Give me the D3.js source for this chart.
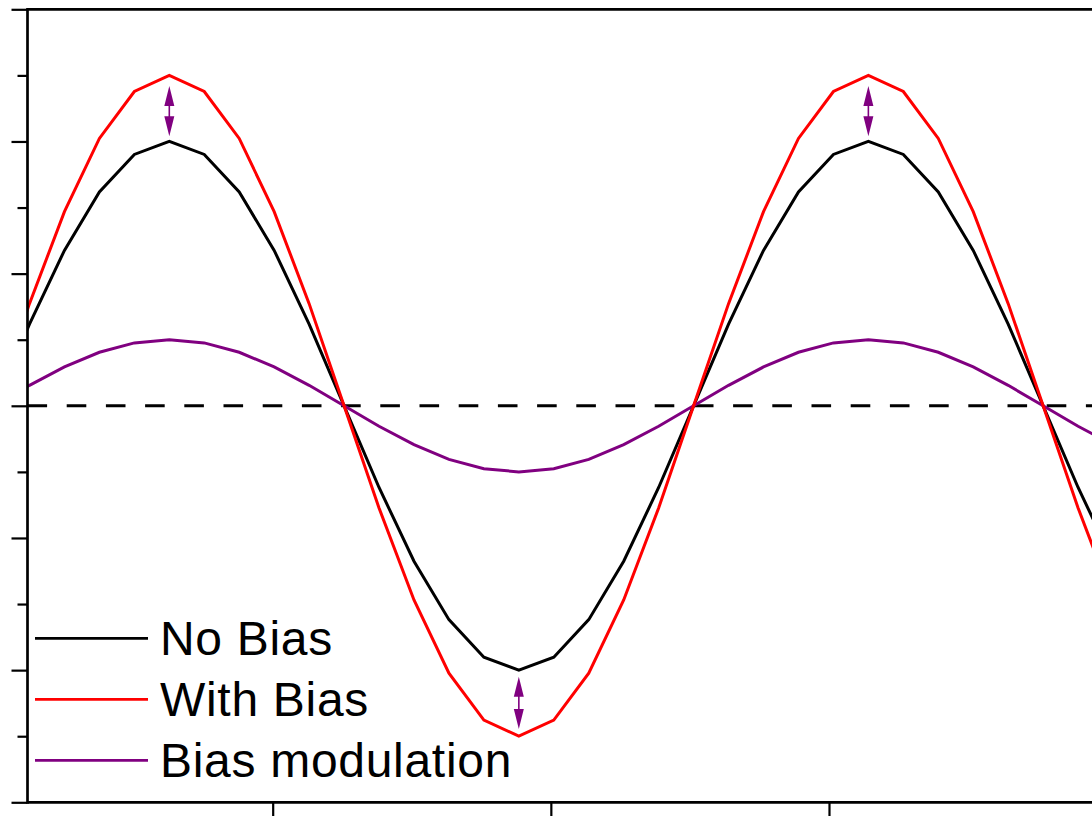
<!DOCTYPE html>
<html>
<head>
<meta charset="utf-8">
<script src="https://cdn.jsdelivr.net/npm/d3@7/dist/d3.min.js"></script>
<style>
  html, body { margin: 0; padding: 0; background: #fff; }
  svg { display: block; }
</style>
</head>
<body>
<svg id="chart" width="1092" height="816"></svg>
<script>
// ---- data ----
const xValues = [0, 1.2566, 2.5133, 3.7699, 5.0265, 6.2832, 7.5398, 8.7965, 10.0531, 11.3097,
  12.5664, 13.8230, 15.0796, 16.3363, 17.5929, 18.8496, 20.1062, 21.3628, 22.6195, 23.8761,
  25.1327, 26.3894, 27.6460, 28.9027, 30.1593, 31.4159, 32.6726, 33.9292, 35.1858, 36.4425,
  37.6991, 38.9557, 40.2124];
const noBias = [0, 0.618, 1.176, 1.618, 1.902, 2, 1.902, 1.618, 1.176, 0.618,
  0, -0.618, -1.176, -1.618, -1.902, -2, -1.902, -1.618, -1.176, -0.618,
  0, 0.618, 1.176, 1.618, 1.902, 2, 1.902, 1.618, 1.176, 0.618,
  0, -0.618, -1.176];
const withBias = [0, 0.773, 1.469, 2.023, 2.378, 2.5, 2.378, 2.023, 1.469, 0.773,
  0, -0.773, -1.469, -2.023, -2.378, -2.5, -2.378, -2.023, -1.469, -0.773,
  0, 0.773, 1.469, 2.023, 2.378, 2.5, 2.378, 2.023, 1.469, 0.773,
  0, -0.773, -1.469];
const biasModulation = [0, 0.155, 0.294, 0.405, 0.476, 0.5, 0.476, 0.405, 0.294, 0.155,
  0, -0.155, -0.294, -0.405, -0.476, -0.5, -0.476, -0.405, -0.294, -0.155,
  0, 0.155, 0.294, 0.405, 0.476, 0.5, 0.476, 0.405, 0.294, 0.155,
  0, -0.155, -0.294];
const seriesNames = ["No Bias", "With Bias", "Bias modulation"];
const arrowX = [6.2832, 18.8496, 31.4159];
const arrowFrom = [2.04, -2.05, 2.04];
const arrowTo = [2.42, -2.445, 2.42];
const yMajorTicks = [-3, -2, -1, 0, 1, 2, 3];
const yMinorTicks = [-2.5, -1.5, -0.5, 0.5, 1.5, 2.5];
const xMajorTicks = [10, 20, 30, 40];

// ---- layout ----
const svg = d3.select("#chart");
const plotLeft = 27.5, plotTop = 9.3, plotBottom = 802.3;
const xMin = 1.185, xMax = 40;
const pxPerUnit = 27.815;
const plotRight = plotLeft + (xMax - xMin) * pxPerUnit;

const x = d3.scaleLinear().domain([xMin, xMax]).range([plotLeft, plotRight]);
const y = d3.scaleLinear().domain([-3, 3]).range([plotBottom, plotTop]);

svg.append("rect").attr("width", 1092).attr("height", 816).attr("fill", "#fff");

svg.append("defs").append("clipPath").attr("id", "plotclip")
  .append("rect").attr("x", plotLeft).attr("y", plotTop)
  .attr("width", plotRight - plotLeft).attr("height", plotBottom - plotTop);

const plot = svg.append("g").attr("clip-path", "url(#plotclip)");

// zero dashed line
plot.append("line")
  .attr("x1", plotLeft).attr("x2", plotRight)
  .attr("y1", y(0)).attr("y2", y(0))
  .attr("stroke", "#000").attr("stroke-width", 3)
  .attr("stroke-dasharray", "19.6,19.6");

const line = d3.line().x((d, i) => x(xValues[i])).y(d => y(d));
const series = [
  { vals: noBias, color: "#000000" },
  { vals: biasModulation, color: "#800080" },
  { vals: withBias, color: "#ff0000" }
];
series.forEach(s => {
  plot.append("path")
    .attr("d", line(s.vals))
    .attr("fill", "none")
    .attr("stroke", s.color)
    .attr("stroke-width", 3)
    .attr("stroke-linejoin", "miter");
});

// double arrows
const headLen = 20, headHalf = 5;
arrowX.forEach((ax, i) => {
  const px = x(ax);
  const yA = y(Math.max(arrowFrom[i], arrowTo[i]));
  const yB = y(Math.min(arrowFrom[i], arrowTo[i]));
  const g = plot.append("g");
  g.append("line")
    .attr("x1", px).attr("x2", px)
    .attr("y1", yA + headLen - 1).attr("y2", yB - headLen + 1)
    .attr("stroke", "#800080").attr("stroke-width", 1.6);
  g.append("path")
    .attr("d", `M${px},${yA} L${px - headHalf},${yA + headLen} L${px + headHalf},${yA + headLen} Z`)
    .attr("fill", "#800080");
  g.append("path")
    .attr("d", `M${px},${yB} L${px - headHalf},${yB - headLen} L${px + headHalf},${yB - headLen} Z`)
    .attr("fill", "#800080");
});

// axes ticks
const yMajorAxis = d3.axisLeft(y).tickValues(yMajorTicks).tickSize(16).tickFormat("");
const yMinorAxis = d3.axisLeft(y).tickValues(yMinorTicks).tickSize(10).tickFormat("");
const xAxis = d3.axisBottom(x).tickValues(xMajorTicks).tickSize(16).tickFormat("");

function styleAxis(g) {
  g.select(".domain").remove();
  g.selectAll(".tick line").attr("stroke", "#000").attr("stroke-width", 2.2);
}
svg.append("g").attr("transform", `translate(${plotLeft},0)`).call(yMajorAxis).call(styleAxis);
svg.append("g").attr("transform", `translate(${plotLeft},0)`).call(yMinorAxis).call(styleAxis);
svg.append("g").attr("transform", `translate(0,${plotBottom})`).call(xAxis).call(styleAxis);

// frame lines
const fw = 2.7;
svg.append("line").attr("x1", plotLeft).attr("x2", plotLeft)
  .attr("y1", plotTop - fw / 2).attr("y2", plotBottom + fw / 2)
  .attr("stroke", "#000").attr("stroke-width", fw);
svg.append("line").attr("x1", plotLeft).attr("x2", plotRight).attr("y1", plotTop).attr("y2", plotTop)
  .attr("stroke", "#000").attr("stroke-width", fw);
svg.append("line").attr("x1", plotLeft).attr("x2", plotRight).attr("y1", plotBottom).attr("y2", plotBottom)
  .attr("stroke", "#000").attr("stroke-width", fw);
svg.append("line").attr("x1", plotRight).attr("x2", plotRight).attr("y1", plotTop).attr("y2", plotBottom)
  .attr("stroke", "#000").attr("stroke-width", fw);

// legend
const legendColors = ["#000000", "#ff0000", "#800080"];
const legendBaselines = [655, 716, 777];
const legend = svg.append("g");
seriesNames.forEach((name, i) => {
  legend.append("line")
    .attr("x1", 35).attr("x2", 148)
    .attr("y1", legendBaselines[i] - 16.7).attr("y2", legendBaselines[i] - 16.7)
    .attr("stroke", legendColors[i]).attr("stroke-width", 2.8);
  legend.append("text")
    .attr("x", 160).attr("y", legendBaselines[i])
    .attr("font-family", "'Liberation Sans', Arial, sans-serif")
    .attr("font-size", 48)
    .attr("letter-spacing", 0.7)
    .attr("fill", "#000")
    .text(name);
});
</script>
</body>
</html>
